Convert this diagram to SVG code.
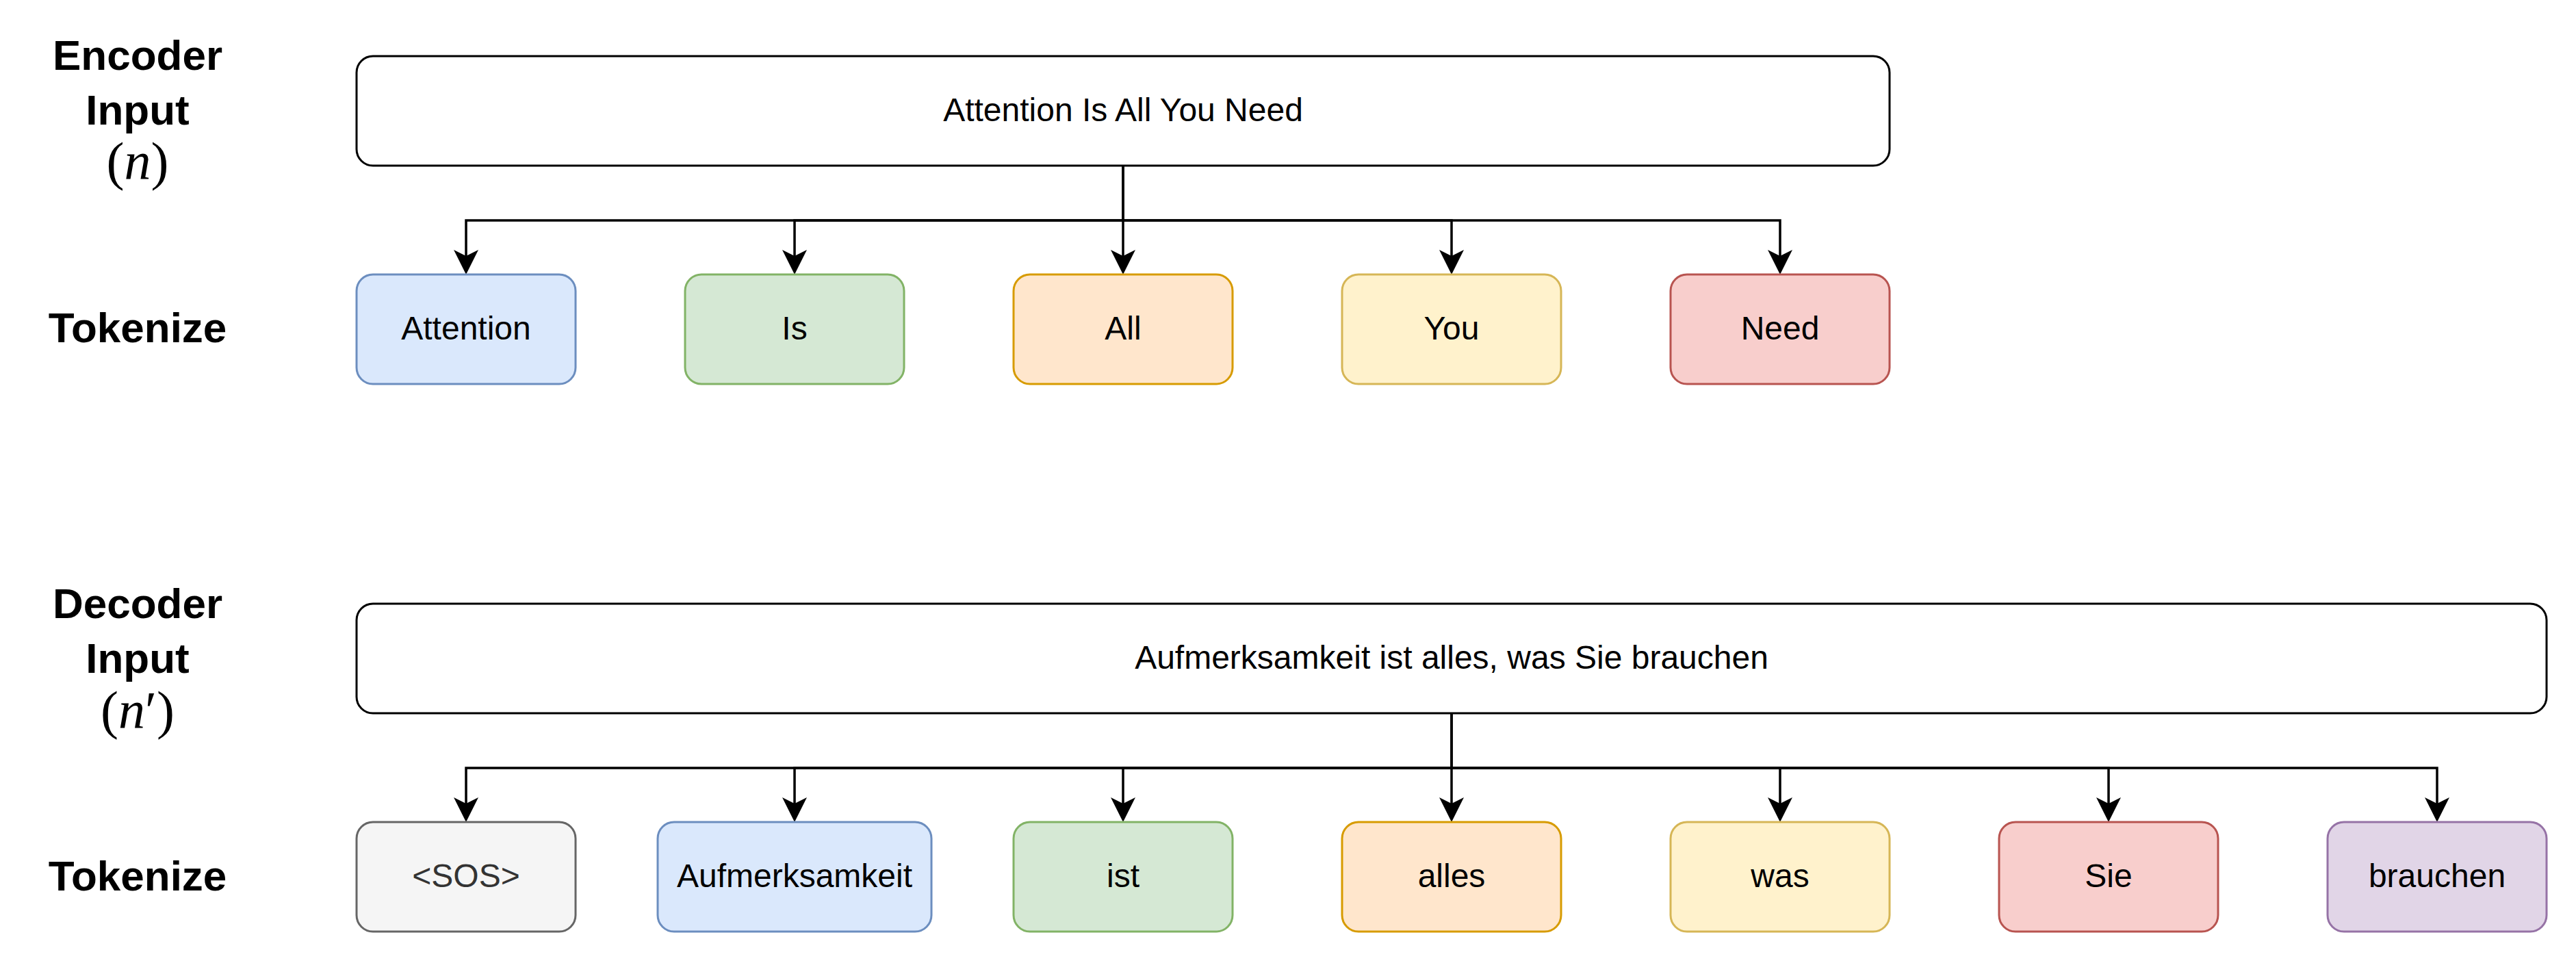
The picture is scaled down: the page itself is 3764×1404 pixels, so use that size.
<svg xmlns="http://www.w3.org/2000/svg" width="3764" height="1404" viewBox="0 0 3764 1404">
<style>
.lbl{font-family:"Liberation Sans",Arial,sans-serif;font-weight:bold;font-size:62px;fill:#000;text-anchor:middle}
.math{font-family:"Liberation Serif","DejaVu Serif",serif;font-size:78px;fill:#000;text-anchor:middle}
.t{font-family:"Liberation Sans",Arial,sans-serif;font-size:48px;fill:#000;text-anchor:middle}
.box{fill:#fff;stroke:#000;stroke-width:3}
.tok{stroke-width:3}
.blue{fill:#dae8fc;stroke:#6c8ebf}
.green{fill:#d5e8d4;stroke:#82b366}
.orange{fill:#ffe6cc;stroke:#d79b00}
.yellow{fill:#fff2cc;stroke:#d6b656}
.red{fill:#f8cecc;stroke:#b85450}
.purple{fill:#e1d5e7;stroke:#9673a6}
.gray{fill:#f5f5f5;stroke:#666666}
.edge{fill:none;stroke:#000;stroke-width:3.5}
</style>

<g id="labels">
<g id="enc-label">
<text class="lbl" x="201" y="102">Encoder</text>
<text class="lbl" x="201" y="182">Input</text>
<text class="math" x="201" y="262">(<tspan font-style="italic">n</tspan>)</text>
</g>
<g id="enc-tok-label"><text class="lbl" x="201" y="500">Tokenize</text></g>
<g id="dec-label">
<text class="lbl" x="201" y="903">Decoder</text>
<text class="lbl" x="201" y="983">Input</text>
<text class="math" x="201" y="1064">(<tspan font-style="italic">n</tspan>′)</text>
</g>
<g id="dec-tok-label"><text class="lbl" x="201" y="1301">Tokenize</text></g>
</g>

<g id="connectors">
<path class="edge" d="M1641 242 V322 H681 V374"/>
<path class="edge" d="M1641 322 H1161 V374"/>
<path class="edge" d="M1641 242 V374"/>
<path class="edge" d="M1641 322 H2121 V374"/>
<path class="edge" d="M1641 322 H2601 V374"/>
<path class="edge" d="M2121 1042 V1122 H681 V1174"/>
<path class="edge" d="M2121 1122 H1161 V1174"/>
<path class="edge" d="M2121 1122 H1641 V1174"/>
<path class="edge" d="M2121 1042 V1174"/>
<path class="edge" d="M2121 1122 H2601 V1174"/>
<path class="edge" d="M2121 1122 H3081 V1174"/>
<path class="edge" d="M2121 1122 H3561 V1174"/>
<g fill="#000">
<path d="M681 401 L663 365 L681 374 L699 365 Z"/>
<path d="M1161 401 L1143 365 L1161 374 L1179 365 Z"/>
<path d="M1641 401 L1623 365 L1641 374 L1659 365 Z"/>
<path d="M2121 401 L2103 365 L2121 374 L2139 365 Z"/>
<path d="M2601 401 L2583 365 L2601 374 L2619 365 Z"/>
<path d="M681 1201 L663 1165 L681 1174 L699 1165 Z"/>
<path d="M1161 1201 L1143 1165 L1161 1174 L1179 1165 Z"/>
<path d="M1641 1201 L1623 1165 L1641 1174 L1659 1165 Z"/>
<path d="M2121 1201 L2103 1165 L2121 1174 L2139 1165 Z"/>
<path d="M2601 1201 L2583 1165 L2601 1174 L2619 1165 Z"/>
<path d="M3081 1201 L3063 1165 L3081 1174 L3099 1165 Z"/>
<path d="M3561 1201 L3543 1165 L3561 1174 L3579 1165 Z"/>
</g>
</g>

<g id="encoder-input">
<rect class="box" x="521" y="82" width="2240" height="160" rx="24"/>
<text class="t" x="1641" y="177">Attention Is All You Need</text>
</g>
<g id="tok-attention"><rect class="tok blue" x="521" y="401" width="320" height="160" rx="24"/><text class="t" x="681" y="496">Attention</text></g>
<g id="tok-is"><rect class="tok green" x="1001" y="401" width="320" height="160" rx="24"/><text class="t" x="1161" y="496">Is</text></g>
<g id="tok-all"><rect class="tok orange" x="1481" y="401" width="320" height="160" rx="24"/><text class="t" x="1641" y="496">All</text></g>
<g id="tok-you"><rect class="tok yellow" x="1961" y="401" width="320" height="160" rx="24"/><text class="t" x="2121" y="496">You</text></g>
<g id="tok-need"><rect class="tok red" x="2441" y="401" width="320" height="160" rx="24"/><text class="t" x="2601" y="496">Need</text></g>

<g id="decoder-input">
<rect class="box" x="521" y="882" width="3200" height="160" rx="24"/>
<text class="t" x="2121" y="977">Aufmerksamkeit ist alles, was Sie brauchen</text>
</g>
<g id="tok-sos"><rect class="tok gray" x="521" y="1201" width="320" height="160" rx="24"/><text class="t" x="681" y="1296" style="fill:#333333">&lt;SOS&gt;</text></g>
<g id="tok-aufmerksamkeit"><rect class="tok blue" x="961" y="1201" width="400" height="160" rx="24"/><text class="t" x="1161" y="1296">Aufmerksamkeit</text></g>
<g id="tok-ist"><rect class="tok green" x="1481" y="1201" width="320" height="160" rx="24"/><text class="t" x="1641" y="1296">ist</text></g>
<g id="tok-alles"><rect class="tok orange" x="1961" y="1201" width="320" height="160" rx="24"/><text class="t" x="2121" y="1296">alles</text></g>
<g id="tok-was"><rect class="tok yellow" x="2441" y="1201" width="320" height="160" rx="24"/><text class="t" x="2601" y="1296">was</text></g>
<g id="tok-sie"><rect class="tok red" x="2921" y="1201" width="320" height="160" rx="24"/><text class="t" x="3081" y="1296">Sie</text></g>
<g id="tok-brauchen"><rect class="tok purple" x="3401" y="1201" width="320" height="160" rx="24"/><text class="t" x="3561" y="1296">brauchen</text></g>
</svg>
